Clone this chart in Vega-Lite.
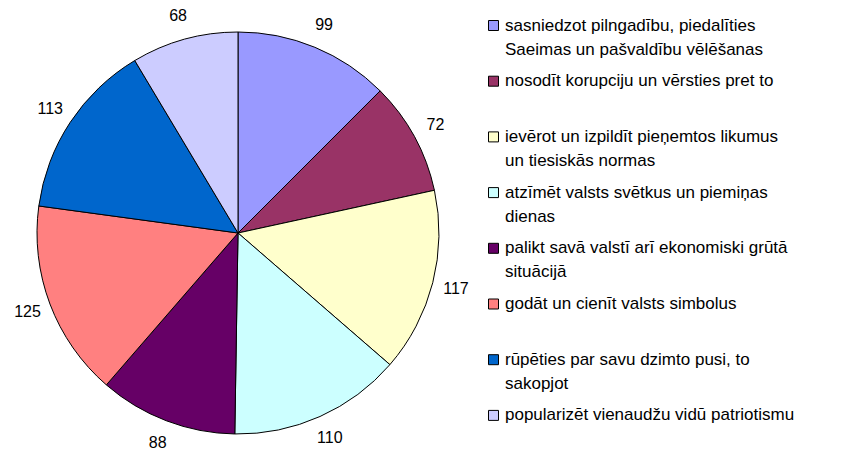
{
  "$schema": "https://vega.github.io/schema/vega-lite/v6.json",
  "width": 404,
  "height": 404,
  "autosize": {"type": "none"},
  "padding": {"left": 36, "top": 31, "right": 405, "bottom": 17},
  "background": "white",
  "data": {
    "values": [
      {"i": 1, "cat": "sasniedzot pilngadību, piedalīties\nSaeimas un pašvaldību vēlēšanas", "value": 99},
      {"i": 2, "cat": "nosodīt korupciju un vērsties pret to", "value": 72},
      {"i": 3, "cat": "ievērot un izpildīt pieņemtos likumus\nun tiesiskās normas", "value": 117},
      {"i": 4, "cat": "atzīmēt valsts svētkus un piemiņas\ndienas", "value": 110},
      {"i": 5, "cat": "palikt savā valstī arī ekonomiski grūtā\nsituācijā", "value": 88},
      {"i": 6, "cat": " godāt un cienīt valsts simbolus", "value": 125},
      {"i": 7, "cat": "rūpēties par savu dzimto pusi, to\nsakopjot", "value": 113},
      {"i": 8, "cat": "popularizēt vienaudžu vidū patriotismu", "value": 68}
    ]
  },
  "encoding": {
    "theta": {"field": "value", "type": "quantitative", "stack": true},
    "order": {"field": "i", "type": "quantitative"}
  },
  "layer": [
    {
      "mark": {"type": "arc", "stroke": "black", "strokeWidth": 1, "outerRadius": 201},
      "encoding": {
        "color": {
          "field": "cat",
          "type": "nominal",
          "sort": null,
          "scale": {
            "domain": [
              "sasniedzot pilngadību, piedalīties\nSaeimas un pašvaldību vēlēšanas",
              "nosodīt korupciju un vērsties pret to",
              "ievērot un izpildīt pieņemtos likumus\nun tiesiskās normas",
              "atzīmēt valsts svētkus un piemiņas\ndienas",
              "palikt savā valstī arī ekonomiski grūtā\nsituācijā",
              " godāt un cienīt valsts simbolus",
              "rūpēties par savu dzimto pusi, to\nsakopjot",
              "popularizēt vienaudžu vidū patriotismu"
            ],
            "range": ["#9999FF", "#993366", "#FFFFCC", "#CCFFFF", "#660066", "#FF8080", "#0066CC", "#CCCCFF"]
          },
          "legend": {
            "title": null,
            "orient": "none",
            "legendX": 449,
            "legendY": -14,
            "symbolType": "square",
            "symbolSize": 100,
            "symbolStrokeColor": "black",
            "symbolStrokeWidth": 1,
            "symbolOpacity": 1,
            "labelFont": "Liberation Sans",
            "labelFontSize": 17,
            "labelColor": "black",
            "labelLimit": 400,
            "labelOffset": 3,
            "labelBaseline": "middle",
            "labelExpr": "split(datum.label, '\\n')",
            "gridAlign": "all",
            "rowPadding": 13.7
          }
        }
      }
    },
    {
      "mark": {"type": "text", "radius": 225, "font": "Liberation Sans", "fontSize": 16, "color": "black"},
      "encoding": {
        "text": {"field": "value", "type": "quantitative"}
      }
    }
  ],
  "config": {
    "view": {"stroke": null},
    "style": {"guide-label": {"lineHeight": 24}}
  }
}
